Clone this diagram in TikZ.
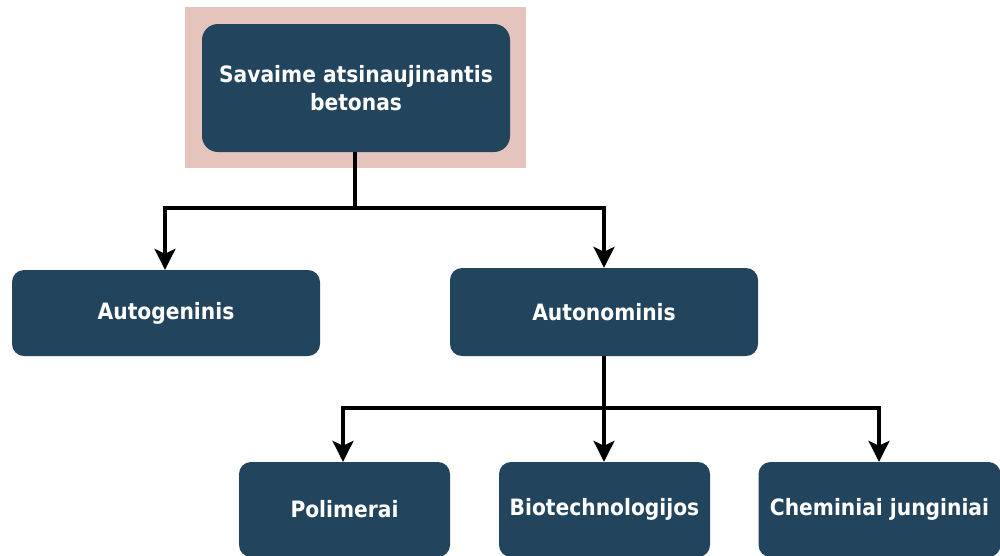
\documentclass[tikz,border=0pt]{standalone}
\usepackage{fontspec}
\newfontfamily\boxfont{DejaVu Sans Condensed}
\usetikzlibrary{arrows.meta}
\definecolor{boxblue}{HTML}{23445D}
\definecolor{halo}{HTML}{E6C4BE}
\begin{document}
\begin{tikzpicture}[x=1pt,y=-1pt,
  cat/.style={fill=boxblue, rounded corners=12pt, text=white, inner sep=0pt,
    font=\boxfont\bfseries\fontsize{22.5}{28}\selectfont, align=center},
  link/.style={draw=black, line width=3.3pt},
  tip/.style={link, -{Stealth[length=21pt,width=21pt,inset=5pt]}}]
\useasboundingbox (0,0) rectangle (1000,555);
\clip (0,0) rectangle (1000,555);

% highlight behind the root
\node[fill=halo, minimum width=341pt, minimum height=161pt, inner sep=0pt] (hl) at (355.5,87.5) {};

% boxes
\node[cat, rounded corners=16pt, minimum width=308pt, minimum height=128pt] (root) at (356,88) {Savaime atsinaujinantis\\betonas};
\node[cat, minimum width=308pt, minimum height=86pt] (autog) at (166,313) {Autogeninis};
\node[cat, minimum width=308pt, minimum height=88pt] (auton) at (604,312) {Autonominis};
\node[cat, minimum width=211pt, minimum height=95pt] (poly) at (344.5,509.5) {Polimerai};
\node[cat, minimum width=211pt, minimum height=95pt] (bio) at (604.5,509.5) {Biotechnologijos};
\node[cat, minimum width=242pt, minimum height=95pt] (chem) at (879.5,509.5) {Cheminiai junginiai};

% bus coordinates
\coordinate (busA) at (355,208);
\coordinate (busB) at (604,408);

% connectors
\draw[link] (root.south -| busA) -- (busA);
\draw[tip] (busA) -| (autog.north -| 165,0);
\draw[tip] (busA) -| (auton.north -| 604,0);
\draw[link] (auton.south -| busB) -- (busB);
\draw[tip] (busB) -| (poly.north -| 343,0);
\draw[tip] (busB) -- (bio.north -| busB);
\draw[tip] (busB) -| (chem.north -| 879,0);
\end{tikzpicture}
\end{document}
